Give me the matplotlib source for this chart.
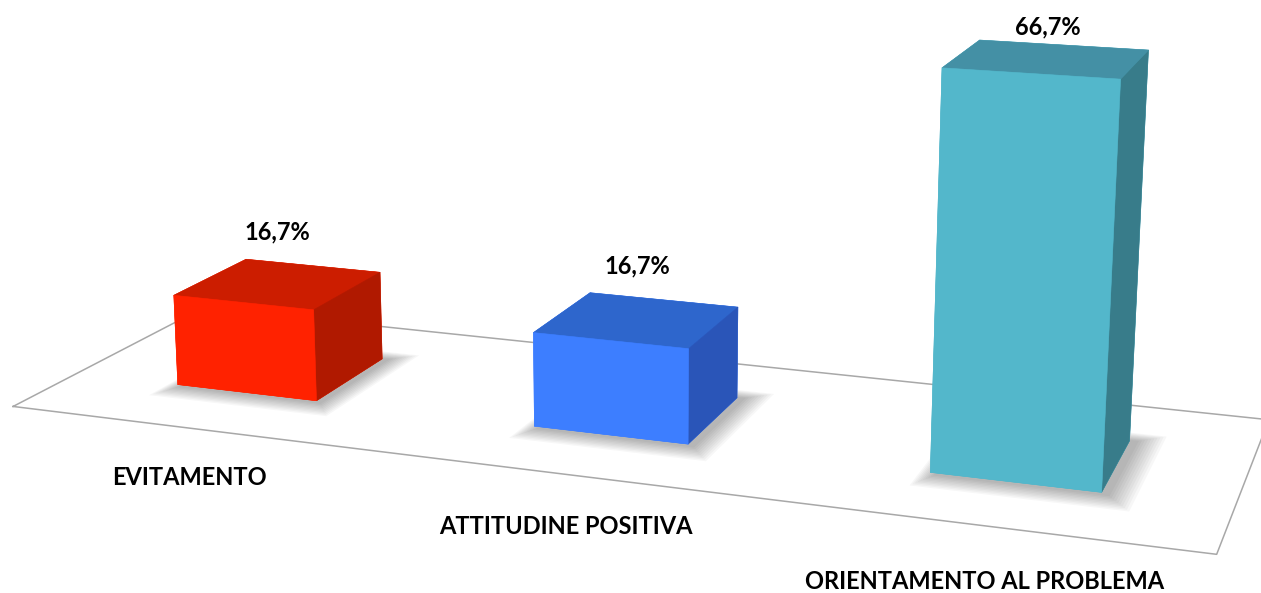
import numpy as np
import matplotlib.pyplot as plt
from mpl_toolkits.mplot3d import proj3d
from mpl_toolkits.mplot3d.art3d import Poly3DCollection

# data
categories = ['EVITAMENTO', 'ATTITUDINE POSITIVA', 'ORIENTAMENTO AL PROBLEMA']
values = [16.7, 16.7, 66.7]
value_labels = ['16,7%', '16,7%', '66,7%']

# face colours: front, top, right side
front_colors = ['#FF2200', '#3D7EFF', '#53B7CB']
top_colors = ['#CC1D00', '#2E66CC', '#4490A5']
side_colors = ['#B01900', '#2A55B8', '#387C8A']

W, H = 1261, 593
fig = plt.figure(figsize=(W / 100, H / 100), dpi=100)
# square 3d axes, larger than the figure so the floor fills the width
L = 1305.1
ax = fig.add_axes([-34.25 / W, -295.0 / H, L / W, L / H],
                  projection='3d', computed_zorder=False)
ax.set_proj_type('persp', focal_length=0.3633)
ax.view_init(elev=13.814, azim=-70.092)
ax.set_xlim(0, 3)
ax.set_ylim(0, 1)
ax.set_zlim(0, 70)
ax.set_box_aspect((3, 0.9731, 1.0093))
ax.set_axis_off()

# floor outline
x0, x1 = ax.get_xlim()
y0, y1 = ax.get_ylim()
floor, = ax.plot([x0, x1, x1, x0, x0], [y0, y0, y1, y1, y0], [0, 0, 0, 0, 0],
                 color='#a8a8a8', lw=1.1, zorder=1)
floor.set_clip_on(False)

n = len(values)
centers = np.arange(n) + 0.5
width = 0.401
depth = 0.399
y_front = 0.312

# soft shadow on the floor under each bar
for c in centers:
    for k in range(1, 11):
        e = 0.0065 * k
        xl, xr = c - width / 2 - 0.6 * e + 0.015, c + width / 2 + e + 0.015
        yf, yk = y_front - 1.5 * e - 0.01, y_front + depth + e
        sh = Poly3DCollection([[(xl, yf, 0), (xr, yf, 0), (xr, yk, 0), (xl, yk, 0)]],
                              facecolor='#000000', alpha=0.032, edgecolor='none',
                              zorder=1.5)
        sh.set_clip_on(False)
        ax.add_collection3d(sh)

# bar3d faces per bar: bottom, top, front, back, left, right
facecolors = []
for i in range(n):
    facecolors += [front_colors[i], top_colors[i], front_colors[i],
                   front_colors[i], front_colors[i], side_colors[i]]

bars = ax.bar3d(centers - width / 2, np.full(n, y_front), np.zeros(n),
                width, depth, values, color=facecolors, shade=False,
                edgecolor=facecolors, linewidth=0.4, zorder=2)
bars.set_clip_on(False)


def label_at(x, y, z, s, **kw):
    # project a 3d anchor point and draw the label as plain 2d text
    M = ax.get_proj()
    xs, ys, _ = proj3d.proj_transform(np.atleast_1d(x), np.atleast_1d(y),
                                      np.atleast_1d(z), M)
    ax.text2D(xs[0], ys[0], s, transform=ax.transData, zorder=5,
              fontsize=17, fontweight='bold', family='Lato', **kw)


ztop = ax.get_zlim()[1]
for c, v, lab in zip(centers, values, value_labels):
    label_at(c, y_front + depth / 2, min(v + 7.5, ztop), lab,
             ha='center', va='bottom')

for c, name in zip(centers, categories):
    label_at(c, 0.0, -9, name, ha='center', va='center')

fig.savefig('out.png', dpi=100)
